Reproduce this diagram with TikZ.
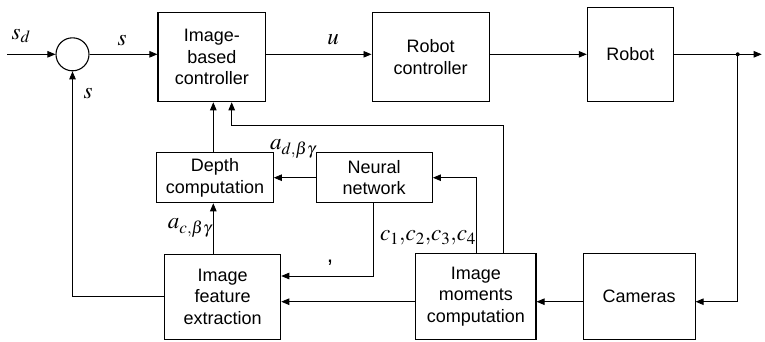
\documentclass[tikz,border=0pt]{standalone}
\usepackage{mathptmx}
\usepackage{fontspec}
\setmainfont{Liberation Sans}
\usetikzlibrary{arrows.meta,calc}
\tikzset{
  blk/.style={draw, line width=1.1pt, align=center, inner sep=0pt,
    font=\fontsize{18}{21.5}\selectfont},
  conn/.style={line width=0.8pt, -{Triangle[length=8pt,width=6.5pt]}},
  wire/.style={line width=0.8pt},
  lbl/.style={font=\fontsize{23}{27}\selectfont, inner sep=0pt}
}
\begin{document}
\begin{tikzpicture}[x=1pt,y=-1pt]
\useasboundingbox (0,0) rectangle (765,341);
% blocks
\node[draw, circle, line width=1.1pt, minimum size=33pt, inner sep=0pt] (sum) at (72.5,54.3) {};
\node[blk, minimum width=107.7pt, minimum height=89.4pt] (ctrl) at (211.8,57) {Image-\\based\\controller};
\node[blk, minimum width=117.3pt, minimum height=89.4pt] (rc) at (430.7,57) {Robot\\controller};
\node[blk, minimum width=86pt, minimum height=94.4pt] (robot) at (630.3,54.5) {Robot};
\node[blk, minimum width=116.6pt, minimum height=50pt] (depth) at (215,177.7) {Depth\\computation};
\node[blk, minimum width=116.3pt, minimum height=49.6pt] (nn) at (374.2,177.5) {Neural\\network};
\node[blk, minimum width=116pt, minimum height=85.3pt] (feat) at (222.7,296.7) {Image\\feature\\extraction};
\node[blk, minimum width=120.3pt, minimum height=86pt] (mom) at (475.8,296.3) {Image\\moments\\computation};
\node[blk, minimum width=111.7pt, minimum height=86pt] (cam) at (639.2,296.3) {Cameras};
% free ends
\coordinate (in) at (7,54.3);
\coordinate (out) at (761.7,54.3);
\coordinate (tap) at (737.7,54.3);
% main path
\draw[conn] (in) -- (sum.west);
\draw[conn] (sum.east) -- (sum.east -| ctrl.west);
\draw[conn] (sum.east -| ctrl.east) -- (sum.east -| rc.west);
\draw[conn] (sum.east -| rc.east) -- (sum.east -| robot.west);
\draw[conn] (sum.east -| robot.east) -- (out);
\fill (tap) circle (2pt);
\draw[conn] (tap) -- (tap |- 0,301.7) -- (cam.east |- 0,301.7);
\draw[conn] (cam.west |- 0,301.7) -- (mom.east |- 0,301.7);
\draw[conn] (mom.west |- 0,301.7) -- (feat.east |- 0,301.7);
\draw[conn] (feat.west) -- (sum.south |- feat.west) -- (sum.south);
\draw[conn] (213.3,0 |- feat.north) -- (213.3,0 |- depth.south);
\draw[conn] (213.3,0 |- depth.north) -- (213.3,0 |- ctrl.south);
\draw[conn] (nn.west |- 0,177.7) -- (depth.east |- 0,177.7);
\draw[conn] (373.3,0 |- nn.south) -- (373.3,276) -- (feat.east |- 0,276);
\draw[conn] (476.7,0 |- mom.north) -- (476.7,177.7) -- (nn.east |- 0,177.7);
\draw[conn] (503.3,0 |- mom.north) -- (503.3,125.7) -- (231.7,125.7) -- (231.7,0 |- ctrl.south);
% labels
\node[lbl] at (21,36) {$s_d$};
\node[lbl] at (122,41) {$s$};
\node[lbl] at (88,94) {$s$};
\node[lbl] at (333,40) {$u$};
\node[lbl] at (293,149) {$a_{d,\beta\gamma}$};
\node[lbl] at (190,228) {$a_{c,\beta\gamma}$};
\node[lbl] at (330,263) {,};
\node[lbl] at (428,238) {$c_1{,}c_2{,}c_3{,}c_4$};
\end{tikzpicture}
\end{document}
